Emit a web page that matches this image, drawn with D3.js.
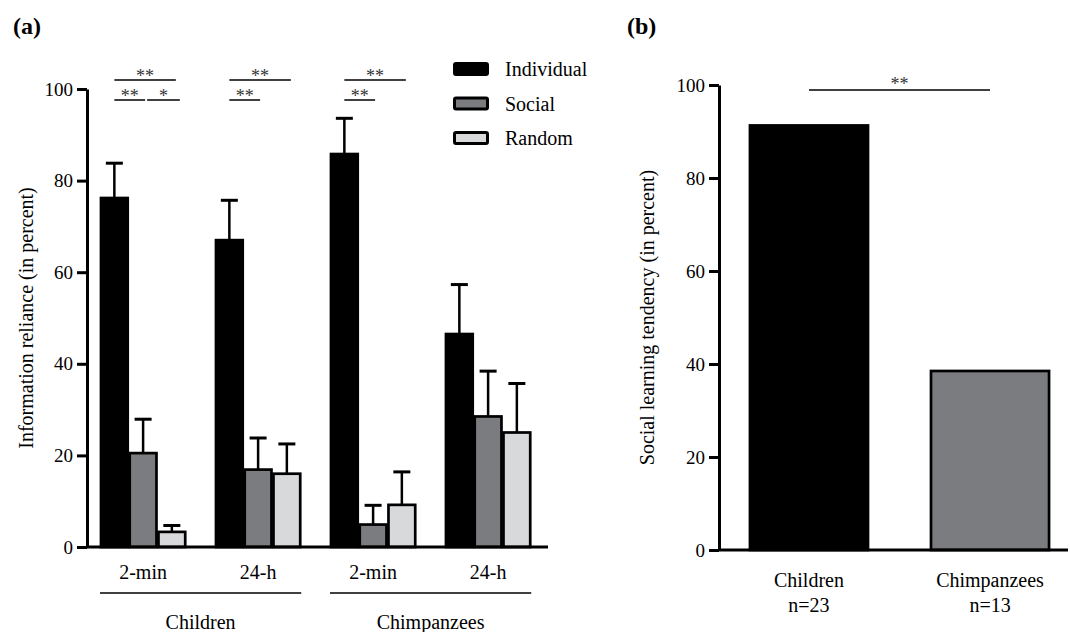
<!DOCTYPE html>
<html>
<head>
<meta charset="utf-8">
<script src="https://cdn.jsdelivr.net/npm/d3@7"></script>
<style>
  body { margin: 0; background: #fff; }
  svg, svg text { font-family: "Liberation Serif", "DejaVu Serif", "Times New Roman", serif !important; }
  svg text { fill: #000; }
  .axis .domain { stroke: #000; stroke-width: 3; }
  .axis .tick line { stroke: #000; stroke-width: 3; }
</style>
</head>
<body>
<div id="chart"></div>
<script>
// data for panel (a)
var species = ["Children", "Chimpanzees"];
var delays = ["2-min", "24-h"];
var groups = ["Children 2-min", "Children 24-h", "Chimpanzees 2-min", "Chimpanzees 24-h"];
var strategies = ["Individual", "Social", "Random"];
var meanValues = [
  [76.2, 20.5, 3.3],
  [67.0, 16.9, 16.0],
  [85.8, 4.9, 9.2],
  [46.5, 28.5, 25.0]
];
var errorTops = [
  [83.8, 27.9, 4.7],
  [75.7, 23.8, 22.5],
  [93.6, 9.1, 16.4],
  [57.3, 38.4, 35.7]
];
// significance: group, from bar, to bar, row (0 top, 1 lower), label
var sigA = [
  [0, 0, 2, 0, "**"], [0, 0, 1, 1, "**"], [0, 1, 2, 1, "*"],
  [1, 0, 2, 0, "**"], [1, 0, 1, 1, "**"],
  [2, 0, 2, 0, "**"], [2, 0, 1, 1, "**"]
];

// data for panel (b)
var groupsB = ["Children", "Chimpanzees"];
var sampleB = ["n=23", "n=13"];
var valuesB = [91.3, 38.5];

var yTicks = [0, 20, 40, 60, 80, 100];
var fills = ["#000000", "#7b7c80", "#d8d9db"];
var serif = "'Liberation Serif', 'DejaVu Serif', serif";

var svg = d3.select("#chart").append("svg")
  .attr("width", 1070)
  .attr("height", 632)
  .style("font-family", serif);

// ---------- panel (a) ----------
var yA = d3.scaleLinear().domain([0, 100]).range([547, 89]);
var xA = d3.scaleBand().domain(groups).range([85.6, 545.6])
  .paddingInner(0.25).paddingOuter(0.125);
var xBar = d3.scaleBand().domain(strategies).range([0, xA.bandwidth()]);

svg.append("text").attr("x", 13).attr("y", 34)
  .style("font-weight", "bold").style("font-size", "24px").text("(a)");

svg.append("g").attr("class", "axis")
  .attr("transform", "translate(87,0)")
  .call(d3.axisLeft(yA).tickValues(yTicks).tickSize(10).tickSizeOuter(0).tickPadding(4))
  .call(g => g.attr("font-family", null).attr("font-size", null))
  .call(g => g.selectAll("text").style("font-size", "19px"));

svg.append("text")
  .attr("transform", "translate(33," + (yA(50)) + ") rotate(-90)")
  .attr("text-anchor", "middle")
  .style("font-size", "20px")
  .text("Information reliance (in percent)");

var gA = svg.append("g");
groups.forEach(function(g, gi) {
  var gx = xA(g);
  var grp = gA.append("g").attr("transform", "translate(" + gx + ",0)");
  strategies.forEach(function(s, si) {
    var bx = xBar(s), bw = xBar.bandwidth(), cx = bx + bw / 2;
    // error bar
    grp.append("line")
      .attr("x1", cx).attr("x2", cx)
      .attr("y1", yA(meanValues[gi][si])).attr("y2", yA(errorTops[gi][si]))
      .attr("stroke", "#000").attr("stroke-width", 2.5);
    grp.append("line")
      .attr("x1", cx - 8.5).attr("x2", cx + 8.5)
      .attr("y1", yA(errorTops[gi][si])).attr("y2", yA(errorTops[gi][si]))
      .attr("stroke", "#000").attr("stroke-width", 3);
    grp.append("rect")
      .attr("x", bx + 1).attr("width", bw - 2)
      .attr("y", yA(meanValues[gi][si]))
      .attr("height", yA(0) - yA(meanValues[gi][si]))
      .attr("fill", fills[si])
      .attr("stroke", "#000").attr("stroke-width", 2.7);
  });
});

// baseline
svg.append("line").attr("x1", 87).attr("x2", 548)
  .attr("y1", yA(0)).attr("y2", yA(0))
  .attr("stroke", "#000").attr("stroke-width", 3);

// significance brackets
var rowY = [80, 100];
sigA.forEach(function(d) {
  var gx = xA(groups[d[0]]);
  var c1 = gx + xBar(strategies[d[1]]) + xBar.bandwidth() / 2;
  var c2 = gx + xBar(strategies[d[2]]) + xBar.bandwidth() / 2;
  var x1 = c1 + (d[1] > 0 ? 4 : 0);
  var x2 = c2 + (d[3] === 0 ? 4 : (d[2] === 2 ? 8 : 2));
  svg.append("line").attr("x1", x1).attr("x2", x2)
    .attr("y1", rowY[d[3]]).attr("y2", rowY[d[3]])
    .attr("stroke", "#000").attr("stroke-width", 1.5);
  svg.append("text").attr("x", (x1 + x2) / 2).attr("y", rowY[d[3]] + 1.5)
    .attr("text-anchor", "middle").style("font-size", "18px")
    .style("fill", "#333").text(d[4]);
});

// x labels
var xAxisA = svg.append("g").attr("class", "axis")
  .attr("transform", "translate(0," + (yA(0) + 10) + ")")
  .call(d3.axisBottom(xA).tickSize(0).tickPadding(0)
    .tickFormat(function(d, i) { return delays[i % 2]; }))
  .call(g => g.attr("font-family", null).attr("font-size", null));
xAxisA.select(".domain").remove();
xAxisA.selectAll("text").style("font-size", "20px")
  .attr("dy", null).attr("y", 22);

species.forEach(function(sp, i) {
  var left = xA(groups[i * 2]);
  var right = xA(groups[i * 2 + 1]) + xA.bandwidth();
  svg.append("line").attr("x1", left).attr("x2", right)
    .attr("y1", 593).attr("y2", 593)
    .attr("stroke", "#000").attr("stroke-width", 1.5);
  svg.append("text").attr("x", (left + right) / 2).attr("y", 629)
    .attr("text-anchor", "middle").style("font-size", "20px").text(sp);
});

// legend
var legend = svg.append("g").attr("transform", "translate(453,62)");
strategies.forEach(function(s, i) {
  legend.append("rect")
    .attr("x", 1.5).attr("y", i * 34.5 + 1.5)
    .attr("width", 33).attr("height", 11).attr("rx", 1.5)
    .attr("fill", fills[i]).attr("stroke", "#000").attr("stroke-width", 3);
  legend.append("text").attr("x", 52).attr("y", i * 34.5 + 14)
    .style("font-size", "20px").text(s);
});

// ---------- panel (b) ----------
var yB = d3.scaleLinear().domain([0, 100]).range([550, 85]);
var xB = d3.scaleBand().domain(groupsB).range([719, 1080])
  .paddingInner(0.348).paddingOuter(0.171);

svg.append("text").attr("x", 627).attr("y", 34)
  .style("font-weight", "bold").style("font-size", "24px").text("(b)");

svg.append("g").attr("class", "axis")
  .attr("transform", "translate(719,0)")
  .call(d3.axisLeft(yB).tickValues(yTicks).tickSize(10).tickSizeOuter(0).tickPadding(4))
  .call(g => g.attr("font-family", null).attr("font-size", null))
  .call(g => g.selectAll("text").style("font-size", "19px"));

svg.append("text")
  .attr("transform", "translate(654," + (yB(50)) + ") rotate(-90)")
  .attr("text-anchor", "middle")
  .style("font-size", "20px")
  .text("Social learning tendency (in percent)");

svg.selectAll(".barB").data(groupsB).enter().append("rect")
  .attr("class", "barB")
  .attr("x", d => xB(d)).attr("width", xB.bandwidth())
  .attr("y", (d, i) => yB(valuesB[i]))
  .attr("height", (d, i) => yB(0) - yB(valuesB[i]))
  .attr("fill", (d, i) => i === 0 ? fills[0] : fills[1])
  .attr("stroke", "#000").attr("stroke-width", 2.7);

svg.append("line").attr("x1", 719).attr("x2", 1068)
  .attr("y1", yB(0)).attr("y2", yB(0))
  .attr("stroke", "#000").attr("stroke-width", 3);

// significance (b)
var bx1 = xB(groupsB[0]) + xB.bandwidth() / 2;
var bx2 = xB(groupsB[1]) + xB.bandwidth() / 2;
svg.append("line").attr("x1", bx1).attr("x2", bx2)
  .attr("y1", 90).attr("y2", 90)
  .attr("stroke", "#000").attr("stroke-width", 1.5);
svg.append("text").attr("x", (bx1 + bx2) / 2).attr("y", 90)
  .attr("text-anchor", "middle").style("font-size", "18px")
  .style("fill", "#333").text("**");

// x labels (b)
var xAxisB = svg.append("g").attr("class", "axis")
  .attr("transform", "translate(0," + yB(0) + ")")
  .call(d3.axisBottom(xB).tickSize(0).tickFormat(""))
  .call(g => g.attr("font-family", null).attr("font-size", null));
xAxisB.select(".domain").remove();
xAxisB.selectAll(".tick").each(function(d, i) {
  var t = d3.select(this).append("text").attr("text-anchor", "middle")
    .style("font-size", "20px");
  t.append("tspan").attr("x", 0).attr("y", 37).text(d);
  t.append("tspan").attr("x", 0).attr("y", 62).text(sampleB[i]);
});
</script>
</body>
</html>
